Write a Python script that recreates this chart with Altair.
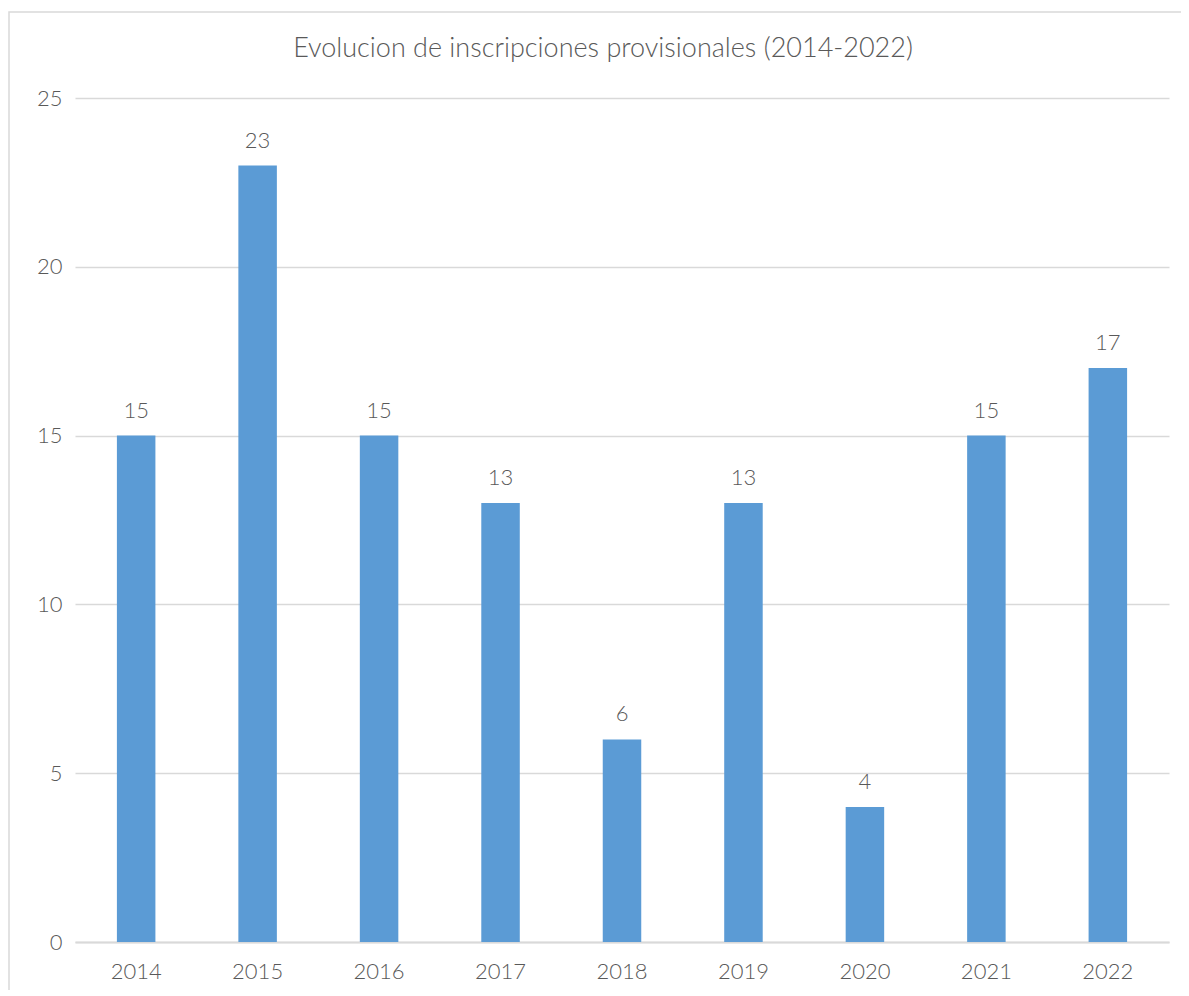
import altair as alt
import pandas as pd

years = ["2014", "2015", "2016", "2017", "2018", "2019", "2020", "2021", "2022"]
values = [15, 23, 15, 13, 6, 13, 4, 15, 17]
title_text = "Evolucion de inscripciones provisionales (2014-2022)"

df = pd.DataFrame({"year": years, "value": values})

FONT = "Lato"
TXT = "#595959"
GRID = "#D9D9D9"
W = 300

yscale = alt.Scale(domain=[0, 25], nice=False, zero=True)

base = alt.Chart(df)

frame = alt.Chart(pd.DataFrame({"k": [0]})).mark_rect(
    fill="transparent", stroke=GRID, strokeWidth=1.5, clip=False
).encode(
    x=alt.value(-66), x2=alt.value(1200), y=alt.value(-86), y2=alt.value(1000)
)

title = alt.Chart(pd.DataFrame({"t": [title_text]})).mark_text(
    font=FONT, fontSize=27, fontWeight=W, color=TXT, align="center",
    baseline="middle", clip=False
).encode(
    x=alt.value(528), y=alt.value(-49), text="t:N"
)

bars = base.mark_bar(color="#5B9BD5").encode(
    x=alt.X("year:N", sort=years, title=None,
            scale=alt.Scale(paddingInner=0.683, paddingOuter=0.345),
            axis=alt.Axis(labelAngle=0, labelFont=FONT, labelFontSize=22,
                          labelFontWeight=W,
                          labelColor=TXT, labelPadding=19, ticks=False,
                          domainColor=GRID, domainWidth=2, grid=False)),
    y=alt.Y("value:Q", title=None, scale=yscale, stack=None,
            axis=alt.Axis(values=[0, 5, 10, 15, 20, 25], labelFont=FONT,
                          labelFontSize=22, labelFontWeight=W,
                          labelColor=TXT, labelPadding=13,
                          ticks=False, domain=False, gridColor=GRID,
                          gridWidth=1.5)),
)

labels = base.mark_text(font=FONT, fontSize=22, fontWeight=W, color=TXT,
                        baseline="alphabetic", dy=-18).encode(
    x=alt.X("year:N", sort=years),
    y=alt.Y("value:Q", scale=yscale),
    text=alt.Text("value:Q"),
)

chart = alt.layer(frame, title, bars, labels).properties(
    width=1094,
    height=844,
    autosize=alt.AutoSizeParams(type="none"),
    padding={"left": 67, "top": 90, "right": 12, "bottom": 48},
).configure_view(stroke=None)

chart.save("out.html", embed_options={"renderer": "svg", "actions": False})
